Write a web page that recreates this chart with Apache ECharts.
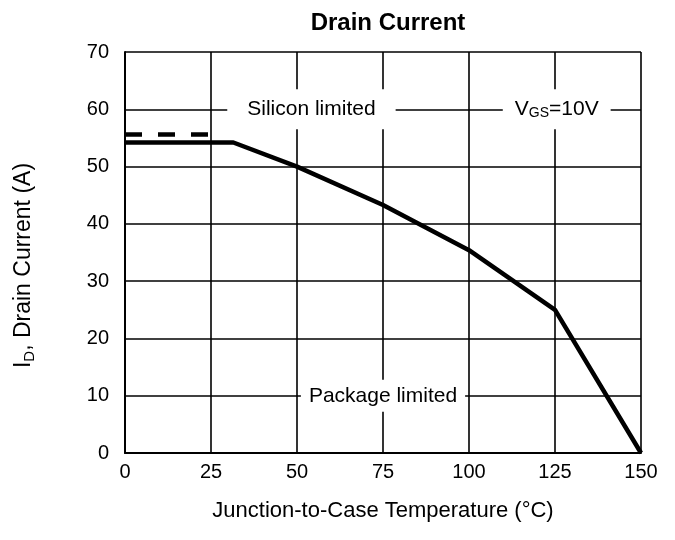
<!DOCTYPE html>
<html>
<head>
<meta charset="utf-8">
<script src="https://cdn.jsdelivr.net/npm/echarts@6/dist/echarts.min.js"></script>
<style>
    html, body { margin: 0; padding: 0; background: #fff; }
    #chart { width: 675px; height: 540px; }
</style>
</head>
<body>
<div id="chart"></div>
<script>
// values
const tempC = [0, 31.5, 50, 75, 100, 125, 150];
const packageLimit = [54.2, 54.2, 50, 43.3, 35.4, 25, 0];
const siliconTemp = [0, 25];
const siliconLimit = [55.6, 55.6];
const xTicks = [0, 25, 50, 75, 100, 125, 150];
const yTicks = [0, 10, 20, 30, 40, 50, 60, 70];

const font = "Arial, 'Liberation Sans', sans-serif";
const chart = echarts.init(document.getElementById("chart"));

// white boxed annotation, drawn on a markPoint so it sits on the axes' scales
const boxLabel = (text, pad, rich) => ({
    show: true,
    position: "inside",
    formatter: text,
    color: "#000",
    fontFamily: font,
    fontSize: 21,
    lineHeight: 22,
    backgroundColor: "#fff",
    padding: pad,
    rich: rich || {},
});

const sub = { fontSize: 14, fontFamily: font, color: "#000", lineHeight: 22, padding: [8, 0, 0, 0] };
const normal = { fontSize: 21, fontFamily: font, color: "#000", lineHeight: 22 };

chart.setOption({
    animation: false,
    backgroundColor: "#fff",
    title: {
        text: "Drain Current",
        left: 383,
        top: 6,
        textAlign: "center",
        textStyle: { fontFamily: font, fontSize: 24, fontWeight: "bold", color: "#000" },
    },
    grid: { left: 125, right: 34, top: 52, bottom: 87 },
    xAxis: {
        type: "value",
        min: 0,
        max: 150,
        interval: 25,
        name: "Junction-to-Case Temperature (°C)",
        nameLocation: "middle",
        nameGap: 47,
        nameTextStyle: { fontFamily: font, fontSize: 22, color: "#000" },
        axisLine: { show: true, lineStyle: { color: "#000", width: 2 } },
        axisTick: { show: false },
        axisLabel: {
            fontFamily: font, fontSize: 20, color: "#000", margin: 9,
            formatter: (v) => (xTicks.includes(v) ? String(v) : ""),
        },
        splitLine: { show: true, lineStyle: { color: "#000", width: 1.6 } },
    },
    yAxis: {
        type: "value",
        min: 0,
        max: 70,
        interval: 10,
        name: "{n|I}{s|D}{n|, Drain Current (A)}",
        nameLocation: "middle",
        nameGap: 88,
        nameRotate: 90,
        nameTextStyle: {
            fontFamily: font, fontSize: 23, color: "#000",
            padding: [0, 26, 0, 0],
            rich: {
                n: { fontFamily: font, fontSize: 23, color: "#000" },
                s: { fontFamily: font, fontSize: 15, color: "#000", padding: [12, 0, 0, 0] },
            },
        },
        axisLine: { show: true, lineStyle: { color: "#000", width: 2 } },
        axisTick: { show: false },
        axisLabel: {
            fontFamily: font, fontSize: 20, color: "#000", margin: 16,
            formatter: (v) => (yTicks.includes(v) ? String(v) : ""),
        },
        splitLine: { show: true, lineStyle: { color: "#000", width: 1.6 } },
    },
    series: [
        {
            name: "Package limited",
            type: "line",
            data: tempC.map((t, i) => [t, packageLimit[i]]),
            symbol: "none",
            lineStyle: { color: "#000", width: 4.5 },
            z: 3,
            markPoint: {
                symbol: "rect",
                symbolSize: 0,
                data: [
                    { coord: [54.2, 60], label: boxLabel("Silicon limited", [9, 20]) },
                    {
                        coord: [125.5, 60],
                        label: boxLabel("{n|V}{s|GS}{n|=10V}", [9, 12], { n: normal, s: sub }),
                    },
                    { coord: [75, 10], label: boxLabel("Package limited", [5, 8]) },
                ],
            },
        },
        {
            name: "Silicon limited",
            type: "line",
            data: siliconTemp.map((t, i) => [t, siliconLimit[i]]),
            symbol: "none",
            lineStyle: { color: "#000", width: 4.5, type: [17, 16] },
            z: 3,
        },
    ],
});
</script>
</body>
</html>
